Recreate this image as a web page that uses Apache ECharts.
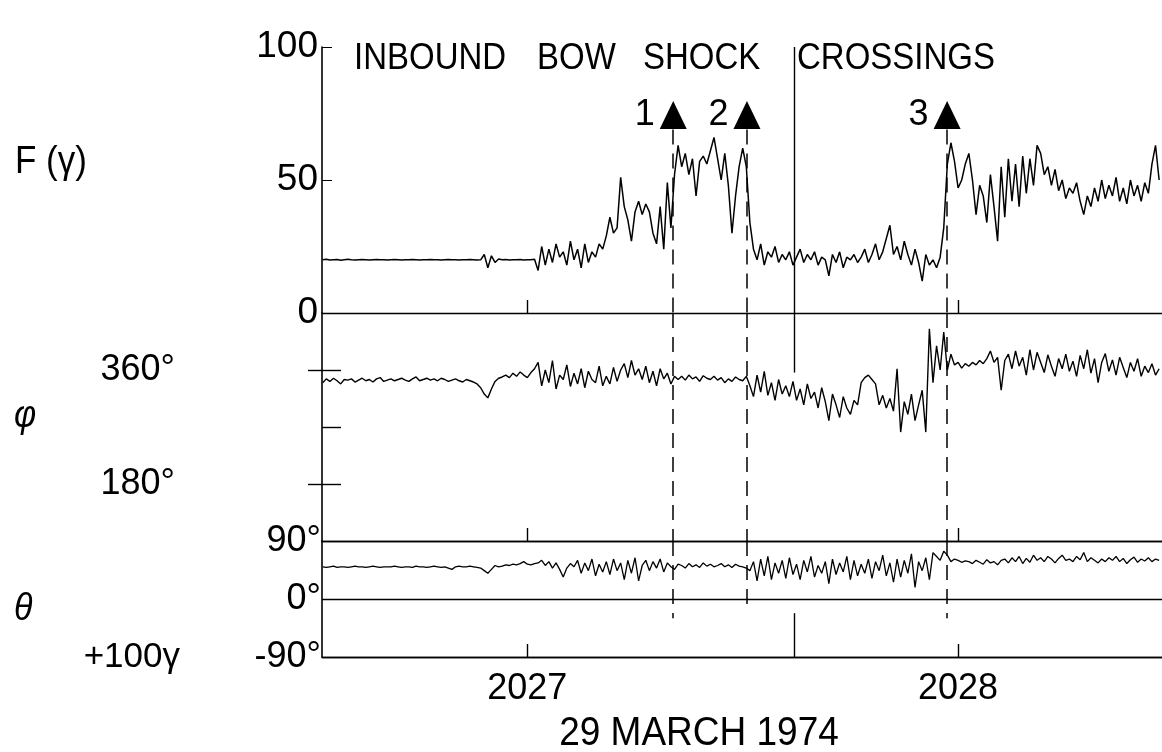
<!DOCTYPE html>
<html><head><meta charset="utf-8">
<script src="https://cdn.jsdelivr.net/npm/echarts@6/dist/echarts.min.js"></script>
<style>html,body{margin:0;padding:0;background:#fff}#c{width:1162px;height:752px}</style>
</head><body><div id="c"></div>
<script>
// time axis: seconds after 20:26:00 UT
const sampleStart = 31.5, sampleStep = 0.5;
const tickTimes = [60, 120];
const tickLabels = ['2027', '2028'];
const crossingTimes = [80.32, 90.59, 118.47];
const crossingNames = ['1', '2', '3'];
const markerTime = 97.18;
const fTicks = [0, 50, 100];
const phiTicks = [180, 270, 360];
const phiLabelValues = [180, 360];
const thetaTicks = [-90, 0, 90];

const fieldF = [
 20,20.2,19.9,20,20.1,19.8,20,20.2,20,19.9,
 20,20.1,20,19.9,20,20.1,20,20,19.9,20,
 20.1,20,19.9,20,20,20.1,20,19.9,20,20,
 20.1,20,20,19.9,20,20.1,20,20,19.9,20,
 20,20.1,20,19.9,20,22,17,21.5,19,20.3,
 20,20.1,19.9,20,20,20.1,19.9,20,20,20.2,
 16,25,18,24,19,26,21,23,18,27,
 20,24,17,26,19,23,21,26,24,29,
 36,30,32,51,40,35,27,38,42,37,
 41,38,30,26,40,24,49,32,52,63,
 55,60,52,58,44,57,59,56,61,66,
 58,50,60,48,30,44,55,62,55,34,
 24,20,26,18,23,21,25,19,22,20,
 23,18,21,24,19,22,20,23,18,21,
 20,14,22,19,23,17,21,20,22,19,
 21,24,19,22,26,20,23,28,33,22,
 25,20,27,22,18,24,19,12,22,18,
 20,17,21,32,56,64,57,47,50,56,
 60,50,37,48,44,34,52,40,27,55,
 36,58,42,56,40,59,45,58,48,63,
 60,52,55,48,54,46,50,43,47,45,
 49,42,37,44,40,47,42,50,43,48,
 44,51,42,47,41,50,44,48,42,49,
 45,56,63,50
];
const phiDeg = [
 340,346,342,347,343,338,345,344,346,341,
 344,347,343,345,341,346,348,342,344,346,
 343,345,347,344,342,346,349,343,345,347,
 344,346,343,347,345,342,344,346,343,341,
 345,343,341,338,332,322,316,330,342,347,
 349,352,348,355,350,357,352,348,356,362,
 372,335,360,340,375,330,352,345,368,334,
 355,338,362,332,358,345,340,366,335,350,
 338,364,342,360,370,348,375,352,362,345,
 366,340,358,335,362,346,355,338,350,345,
 350,344,352,346,349,342,351,347,345,350,
 344,348,340,346,342,349,345,343,350,335,
 318,352,325,358,320,340,312,345,322,335,
 318,342,312,330,305,338,315,325,300,332,
 310,280,322,305,285,318,300,290,312,305,
 340,348,352,345,338,305,320,300,315,295,
 362,262,310,290,322,280,305,328,262,425,
 340,398,360,420,360,385,368,372,363,370,
 366,372,368,375,370,378,390,372,380,328,
 375,385,362,390,366,380,352,392,360,388,
 372,356,384,366,350,378,362,385,358,374,
 350,383,362,392,355,378,340,372,386,358,
 376,352,380,364,348,372,358,378,350,366,
 356,370,352,362
];
const thetaDeg = [
 50,49,50,51,49,50,50,49,50,51,
 50,50,49,50,51,50,49,50,50,50,
 51,50,49,50,50,49,51,50,50,49,
 50,51,50,49,50,48,46,50,51,50,
 50,51,50,49,48,44,40,46,52,50,
 51,53,52,54,53,55,58,54,53,55,
 56,60,52,58,48,56,46,34,48,55,
 50,60,40,56,44,62,36,54,42,58,
 38,62,44,56,30,60,40,64,28,52,
 60,44,58,48,62,42,56,50,46,54,
 52,48,55,50,53,49,56,51,54,50,
 52,55,50,53,49,54,51,50,48,44,
 58,28,62,36,66,30,56,40,60,32,
 64,38,54,30,60,42,66,34,52,40,
 58,24,62,38,56,42,66,30,60,36,
 54,40,62,32,58,44,68,36,56,26,
 62,34,60,40,70,18,58,44,64,30,
 72,66,60,74,68,58,62,60,57,59,
 58,55,60,57,54,61,56,58,53,60,
 62,56,64,58,66,55,63,57,68,60,
 64,58,66,62,56,63,68,60,62,58,
 66,61,72,58,64,60,56,62,58,64,
 60,66,58,63,55,61,65,57,62,59,
 64,58,62,60
];

const FONT = '"Liberation Sans", Arial, sans-serif';
const BLACK = '#000';
const pairs = arr => arr.map((v, i) => [sampleStart + i * sampleStep, v]);

function xAxisFor(gi, showLabels) {
  return {
    type: 'value', gridIndex: gi, min: 31.4, max: 148.4,
    axisLine: { show: true, onZero: false, lineStyle: { color: BLACK, width: 1.4 } },
    axisTick: { show: true, inside: true, length: 13, customValues: tickTimes, lineStyle: { color: BLACK, width: 1.4 } },
    axisLabel: showLabels ? {
      show: true, customValues: tickTimes, margin: 14,
      formatter: v => tickLabels[tickTimes.indexOf(v)],
      color: BLACK, fontSize: 36, fontFamily: FONT
    } : { show: false },
    splitLine: { show: false }
  };
}
const dashed = { color: BLACK, width: 1.5, type: [15, 9] };
const solid = { color: BLACK, width: 1.4, type: 'solid' };
function vline(x, y1, y2, style) {
  return [{ coord: [x, y1], lineStyle: style }, { coord: [x, y2] }];
}
function txt(s, x, y, size, extra) {
  return Object.assign({ type: 'text', x: x, y: y, scaleY: 1.12,
    style: { text: s, font: size + 'px ' + FONT, fill: BLACK, textVerticalAlign: 'middle' } }, extra || {});
}

const option = {
  animation: false,
  backgroundColor: '#fff',
  grid: [
    { left: 322, top: 47, width: 840, height: 266 },
    { left: 322, top: 313, width: 840, height: 228 },
    { left: 322, top: 541, width: 840, height: 116 }
  ],
  xAxis: [xAxisFor(0, false), xAxisFor(1, false), xAxisFor(2, true)],
  yAxis: [
    { type: 'value', gridIndex: 0, min: 0, max: 100,
      axisLine: { show: true, lineStyle: { color: BLACK, width: 1.6 } },
      axisTick: { show: true, inside: true, length: 10, customValues: fTicks, lineStyle: { color: BLACK } },
      axisLabel: { customValues: fTicks, margin: 4, color: BLACK, fontSize: 37, fontFamily: FONT },
      splitLine: { show: false } },
    { type: 'value', gridIndex: 1, min: 90, max: 450,
      axisLine: { show: true, lineStyle: { color: BLACK, width: 1.6 } },
      axisTick: { show: true, inside: true, length: 19, customValues: phiTicks, lineStyle: { color: BLACK, width: 1.4 } },
      axisLabel: { show: false }, splitLine: { show: false } },
    { type: 'value', gridIndex: 1, min: 90, max: 450, position: 'left',
      axisLine: { show: false },
      axisTick: { show: true, inside: false, length: 14, customValues: phiLabelValues, lineStyle: { color: BLACK, width: 1.4 } },
      axisLabel: { customValues: phiLabelValues, margin: 147, formatter: v => v + '°', color: BLACK, fontSize: 36, fontFamily: FONT },
      splitLine: { show: false } },
    { type: 'value', gridIndex: 2, min: -90, max: 90, interval: 90,
      axisLine: { show: true, lineStyle: { color: BLACK, width: 1.6 } },
      axisTick: { show: false },
      axisLabel: { customValues: thetaTicks, margin: 1, formatter: v => v + '°', color: BLACK, fontSize: 36, fontFamily: FONT },
      splitLine: { show: true, lineStyle: { color: BLACK, width: 1.4 } } },
    { type: 'value', gridIndex: 2, min: -90, max: 90, position: 'left',
      axisLine: { show: false }, axisTick: { show: false },
      axisLabel: { customValues: [-90], margin: 142, formatter: () => '+100γ', color: BLACK, fontSize: 35, fontFamily: FONT },
      splitLine: { show: false } }
  ],
  series: [
    { type: 'line', xAxisIndex: 0, yAxisIndex: 0, data: pairs(fieldF), showSymbol: false, silent: true,
      lineStyle: { color: BLACK, width: 1.5 },
      markLine: { silent: true, symbol: ['none', 'none'], label: { show: false },
        data: [
          vline(markerTime, 100, 0, solid),
          ...crossingTimes.map(t => vline(t, 69, 0, dashed))
        ] },
      markPoint: { silent: true, symbol: 'triangle', symbolSize: [27, 28], itemStyle: { color: BLACK },
        label: { show: true, position: 'left', distance: 5, color: BLACK, fontSize: 36, fontFamily: FONT, formatter: p => p.name },
        data: crossingTimes.map((t, k) => ({ name: crossingNames[k], coord: [t, 74.4] })) } },
    { type: 'line', xAxisIndex: 1, yAxisIndex: 1, data: pairs(phiDeg), showSymbol: false, silent: true,
      lineStyle: { color: BLACK, width: 1.4 },
      markLine: { silent: true, symbol: ['none', 'none'], label: { show: false },
        data: [
          vline(markerTime, 450, 356, solid),
          ...crossingTimes.map(t => vline(t, 450, 90, dashed))
        ] } },
    { type: 'line', xAxisIndex: 2, yAxisIndex: 3, data: pairs(thetaDeg), showSymbol: false, silent: true,
      lineStyle: { color: BLACK, width: 1.3 },
      markLine: { silent: true, symbol: ['none', 'none'], label: { show: false },
        data: [
          vline(markerTime, -22, -90, solid),
          vline(crossingTimes[0], 90, -30, dashed),
          vline(crossingTimes[1], 90, -20, dashed),
          vline(crossingTimes[2], 90, -30, dashed)
        ] } }
  ],
  graphic: [
    txt('INBOUND', 354, 59, 33),
    txt('BOW', 537, 59, 33),
    txt('SHOCK', 643, 59, 33),
    txt('CROSSINGS', 797, 59, 33),
    txt('F (γ)', 15, 162, 35),
    txt('φ', 14, 416, 34, { style: { text: 'φ', font: 'italic 34px ' + FONT, fill: BLACK, textVerticalAlign: 'middle' } }),
    txt('θ', 14, 609, 34, { style: { text: 'θ', font: 'italic 34px ' + FONT, fill: BLACK, textVerticalAlign: 'middle' } }),
    txt('29 MARCH 1974', 699, 734, 37, { style: { text: '29 MARCH 1974', font: '37px ' + FONT, fill: BLACK, textAlign: 'center', textVerticalAlign: 'middle' } })
  ]
};
const chart = echarts.init(document.getElementById('c'), null, { renderer: 'canvas' });
chart.setOption(option);
</script>
</body></html>
